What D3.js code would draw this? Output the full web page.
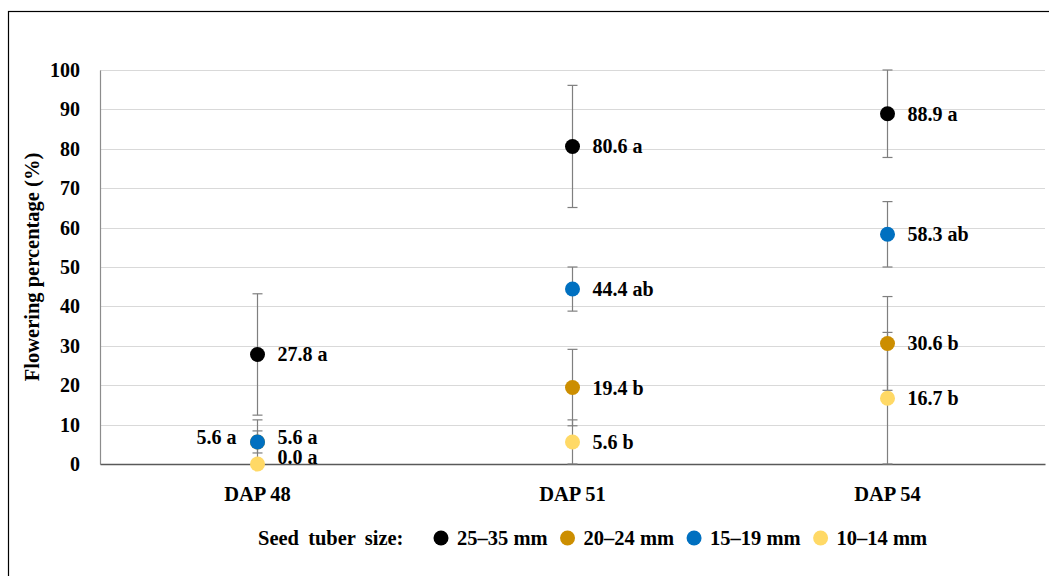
<!DOCTYPE html>
<html>
<head>
<meta charset="utf-8">
<script src="https://cdn.jsdelivr.net/npm/d3@7/dist/d3.min.js"></script>
<style>
  html, body { margin: 0; padding: 0; background: #fff; }
  svg { display: block; }
  text { font-family: "Liberation Serif", "Times New Roman", serif; font-weight: bold; fill: #000; }
</style>
</head>
<body>
<svg id="chart" width="1049" height="576"></svg>
<script>
// Days after planting
const categories = ["DAP 48", "DAP 51", "DAP 54"];

// Seed tuber size classes
const seriesNames = ["25–35 mm", "20–24 mm", "15–19 mm", "10–14 mm"];
const seriesColors = ["#000000", "#CC8E00", "#0070C0", "#FFD966"];

// Mean flowering percentage (%)
const size25to35 = [27.8, 80.6, 88.9];
const size20to24 = [5.6, 19.4, 30.6];
const size15to19 = [5.6, 44.4, 58.3];
const size10to14 = [0.0, 5.6, 16.7];

// Standard error bars
const err25to35 = [15.4, 15.5, 11.1];
const err20to24 = [2.8, 9.7, 11.9];
const err15to19 = [5.6, 5.6, 8.3];
const err10to14 = [0.0, 5.6, 16.7];

// Mean separation letters
const let25to35 = ["a", "a", "a"];
const let20to24 = ["a", "b", "b"];
const let15to19 = ["a", "ab", "ab"];
const let10to14 = ["a", "b", "b"];

const yTicks = [0, 10, 20, 30, 40, 50, 60, 70, 80, 90, 100];
const yTitle = "Flowering percentage (%)";
const legendTitle = "Seed tuber size:";

const seriesValues = [size25to35, size20to24, size15to19, size10to14];
const seriesErrors = [err25to35, err20to24, err15to19, err10to14];
const seriesLetters = [let25to35, let20to24, let15to19, let10to14];

const series = seriesNames.map((name, i) => ({
  name, color: seriesColors[i],
  points: categories.map((c, j) => ({
    cat: c, s: i, v: seriesValues[i][j], e: seriesErrors[i][j], l: seriesLetters[i][j]
  }))
}));

const svg = d3.select("#chart");

// outer frame
svg.append("rect")
  .attr("x", 8.5).attr("y", 11.5)
  .attr("width", 1100).attr("height", 700)
  .attr("fill", "none").attr("stroke", "#000").attr("stroke-width", 1.2);

const plot = { left: 100, right: 1045, top: 70, bottom: 464 };

const x = d3.scaleBand().domain(categories).range([plot.left, plot.right]);
const y = d3.scaleLinear().domain([0, 100]).range([plot.bottom, plot.top]);
const cx = c => x(c) + x.bandwidth() / 2;

// horizontal gridlines
svg.append("g")
  .selectAll("line")
  .data(yTicks.filter(t => t > 0))
  .join("line")
  .attr("x1", plot.left).attr("x2", plot.right)
  .attr("y1", d => Math.round(y(d)) + 0.5).attr("y2", d => Math.round(y(d)) + 0.5)
  .attr("stroke", "#d9d9d9").attr("stroke-width", 1);

// y axis
const yAxis = svg.append("g")
  .attr("transform", `translate(${plot.left},0)`)
  .call(d3.axisLeft(y).tickValues(yTicks).tickSize(0).tickPadding(20).tickFormat(d3.format("d")));
yAxis.select(".domain").attr("stroke", "#8c8c8c").attr("stroke-width", 1.2);
yAxis.selectAll("text")
  .attr("font-size", 20).attr("font-family", "Liberation Serif, serif").attr("font-weight", "bold").attr("fill", "#000");

// x axis
const xAxis = svg.append("g")
  .attr("transform", `translate(0,${plot.bottom})`)
  .call(d3.axisBottom(x).tickSize(0).tickPadding(22));
xAxis.select(".domain").attr("stroke", "#595959").attr("stroke-width", 1.3);
xAxis.selectAll("text")
  .attr("font-size", 20.5).attr("font-family", "Liberation Serif, serif").attr("font-weight", "bold").attr("fill", "#000");

// y axis title
svg.append("text")
  .attr("transform", `translate(39,${(plot.top + plot.bottom) / 2}) rotate(-90)`)
  .attr("text-anchor", "middle")
  .attr("font-size", 20.5)
  .text(yTitle);

// error bars
const allPoints = series.flatMap(s => s.points);
const capW = 5;
const eb = svg.append("g").attr("stroke", "#7f7f7f").attr("stroke-width", 1.2);
allPoints.filter(p => p.e > 0).forEach(p => {
  const lo = Math.max(0, p.v - p.e), hi = Math.min(100, p.v + p.e);
  const px = cx(p.cat);
  eb.append("line").attr("x1", px).attr("x2", px).attr("y1", y(lo)).attr("y2", y(hi));
  eb.append("line").attr("x1", px - capW).attr("x2", px + capW).attr("y1", y(hi)).attr("y2", y(hi));
  eb.append("line").attr("x1", px - capW).attr("x2", px + capW).attr("y1", y(lo)).attr("y2", y(lo));
});

// markers
svg.append("g")
  .selectAll("circle")
  .data(allPoints)
  .join("circle")
  .attr("cx", p => cx(p.cat))
  .attr("cy", p => y(p.v))
  .attr("r", 7.5)
  .attr("fill", p => series[p.s].color);

// value labels; crowded labels at the first date are nudged apart
const labelNudge = (p) => {
  if (p.cat === categories[0] && p.s === 1) return { side: "left", dy: -5 };
  if (p.cat === categories[0] && p.s === 2) return { side: "right", dy: -5 };
  if (p.cat === categories[0] && p.s === 3) return { side: "right", dy: -7 };
  return { side: "right", dy: 0 };
};
svg.append("g")
  .selectAll("text")
  .data(allPoints)
  .join("text")
  .each(function (p) {
    const n = labelNudge(p);
    d3.select(this)
      .attr("x", cx(p.cat) + (n.side === "left" ? -21 : 20))
      .attr("y", y(p.v) + n.dy)
      .attr("dy", "0.35em")
      .attr("text-anchor", n.side === "left" ? "end" : "start")
      .attr("font-size", 20)
      .text(`${p.v.toFixed(1)} ${p.l}`);
  });

// legend
const legY = 538;
const leg = svg.append("g");
leg.append("text")
  .attr("x", 258).attr("y", legY).attr("dy", "0.35em")
  .attr("font-size", 20.5)
  .attr("word-spacing", 4)
  .text(legendTitle);
let lx = 441;
series.forEach(s => {
  leg.append("circle").attr("cx", lx).attr("cy", legY).attr("r", 7.5).attr("fill", s.color);
  const t = leg.append("text")
    .attr("x", lx + 16).attr("y", legY).attr("dy", "0.35em")
    .attr("font-size", 20.5)
    .text(s.name);
  lx = lx + 16 + t.node().getComputedTextLength() + 20;
});
</script>
</body>
</html>
